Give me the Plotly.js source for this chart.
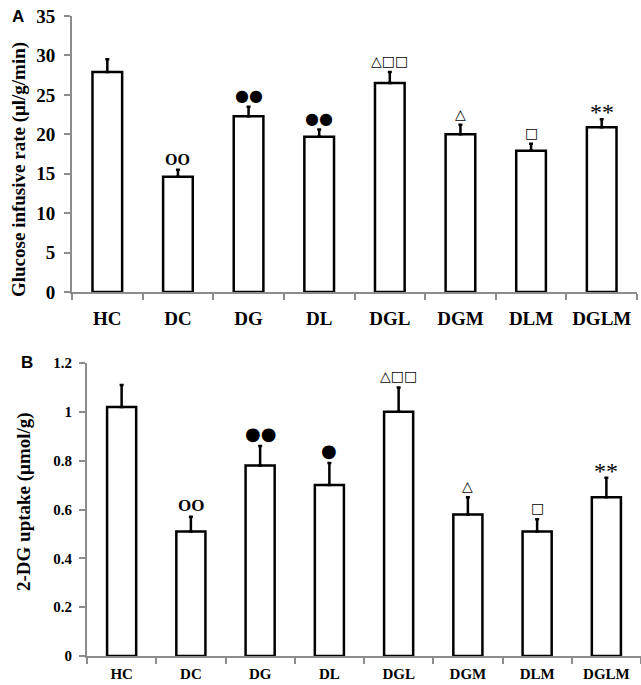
<!DOCTYPE html>
<html>
<head>
<meta charset="utf-8">
<script src="https://cdn.plot.ly/plotly-3.0.1.min.js"></script>
<style>html,body{margin:0;padding:0;background:#fff;}#chart{width:641px;height:685px;}</style>
</head>
<body>
<div id="chart"></div>
<script>
const categories = ["HC", "DC", "DG", "DL", "DGL", "DGM", "DLM", "DGLM"];
// Panel A: glucose infusion rate (µl/g/min)
const girMean = [27.9, 14.6, 22.3, 19.7, 26.5, 20.0, 17.9, 20.9];
const girErr  = [1.6, 0.9, 1.2, 0.9, 1.4, 1.2, 0.9, 1.0];
const girTicks = [0, 5, 10, 15, 20, 25, 30, 35];
// Panel B: 2-DG uptake (µmol/g)
const dgMean = [1.02, 0.51, 0.78, 0.70, 1.00, 0.58, 0.51, 0.65];
const dgErr  = [0.09, 0.06, 0.08, 0.09, 0.10, 0.07, 0.05, 0.08];
const dgTicks = [0, 0.2, 0.4, 0.6, 0.8, 1, 1.2];
// significance marks
const marksA = ["", "OO", "●●", "●●", "△□□", "△", "□", "**"];
const marksB = ["", "OO", "●●", "●", "△□□", "△", "□", "**"];

const serif = "Liberation Serif, Times New Roman, serif";
const sans = "DejaVu Sans, sans-serif";
const axisGrey = "#8c8c8c";

function barTrace(means, errs, xa, ya) {
  return {
    type: "bar", x: categories, y: means, xaxis: xa, yaxis: ya,
    width: 0.42,
    marker: {color: "#ffffff", line: {color: "#000000", width: 2.5}},
    error_y: {type: "data", symmetric: false, array: errs, arrayminus: errs.map(() => 0),
              color: "#000000", thickness: 2.5, width: 2},
    hoverinfo: "none", showlegend: false
  };
}

const traces = [barTrace(girMean, girErr, "x", "y"), barTrace(dgMean, dgErr, "x2", "y2")];

const annotations = [];
function addMarks(marks, means, errs, xr, yr, big) {
  marks.forEach((m, i) => {
    if (!m) return;
    let fam = sans, size = 13, txt = m, shift = 1;
    if (m === "**") { fam = serif; size = 24; shift = -8; }
    else if (m === "OO") { fam = serif; size = big ? 17 : 16; txt = "<b>OO</b>"; shift = 0; }
    else if (m.indexOf("●") >= 0) { size = big ? 18 : 16; shift = 0; }
    else { size = 14; }
    annotations.push({
      xref: xr, yref: yr, x: categories[i], y: means[i] + errs[i],
      text: txt, showarrow: false, xanchor: "center", yanchor: "bottom", yshift: shift,
      font: {family: fam, size: size, color: "#000000"}
    });
  });
}
addMarks(marksA, girMean, girErr, "x", "y", false);
addMarks(marksB, dgMean, dgErr, "x2", "y2", true);

annotations.push(
  {xref: "paper", yref: "paper", x: 19/641, y: 1 - 170/685, xanchor: "center", yanchor: "middle",
   text: "<b>Glucose infusive rate (μl/g/min)</b>",
   textangle: -90, showarrow: false, font: {family: serif, size: 19, color: "#000"}},
  {xref: "paper", yref: "paper", x: 24/641, y: 1 - 502/685, xanchor: "center", yanchor: "middle",
   text: "<b>2-DG uptake (μmol/g)</b>",
   textangle: -90, showarrow: false, font: {family: serif, size: 19, color: "#000"}},
  {xref: "paper", yref: "paper", x: 18/641, y: 1 - 17/685, xanchor: "center", yanchor: "middle",
   text: "<b>A</b>", showarrow: false,
   font: {family: "Liberation Sans, Arial, sans-serif", size: 17, color: "#000"}},
  {xref: "paper", yref: "paper", x: 27/641, y: 1 - 362/685, xanchor: "center", yanchor: "middle",
   text: "<b>B</b>", showarrow: false,
   font: {family: "Liberation Sans, Arial, sans-serif", size: 17, color: "#000"}}
);

function xAxis(domain, anchor, fontSize, standoff) {
  return {
    domain: domain, anchor: anchor, type: "category",
    tickvals: categories, ticktext: categories.map(c => "<b>" + c + "</b>"),
    showline: true, linecolor: axisGrey, linewidth: 2,
    ticks: "outside", tickson: "boundaries", ticklen: 6, tickwidth: 2, tickcolor: axisGrey,
    ticklabelstandoff: standoff,
    tickfont: {family: serif, size: fontSize, color: "#000"},
    showgrid: false, zeroline: false, fixedrange: true
  };
}
function yAxis(domain, anchor, range, ticks, fontSize, standoff) {
  return {
    domain: domain, anchor: anchor, range: range,
    tickvals: ticks, ticktext: ticks.map(t => "<b>" + t + "</b>"),
    showline: true, linecolor: axisGrey, linewidth: 2,
    ticks: "outside", ticklen: 6, tickwidth: 2, tickcolor: axisGrey,
    ticklabelstandoff: standoff,
    tickfont: {family: serif, size: fontSize, color: "#000"},
    showgrid: false, zeroline: false, fixedrange: true
  };
}

const layout = {
  width: 641, height: 685,
  margin: {l: 0, r: 0, t: 0, b: 0},
  paper_bgcolor: "#fff", plot_bgcolor: "#fff",
  xaxis: xAxis([72/641, 637/641], "y", 19, 8),
  yaxis: yAxis([1 - 292/685, 1 - 16/685], "x", [0, 35], girTicks, 19, 5),
  xaxis2: xAxis([87/641, 641/641], "y2", 15, 3),
  yaxis2: yAxis([1 - 656/685, 1 - 363/685], "x2", [0, 1.2], dgTicks, 15, 4),
  annotations: annotations
};

Plotly.newPlot("chart", traces, layout, {displayModeBar: false, staticPlot: true});
</script>
</body>
</html>
